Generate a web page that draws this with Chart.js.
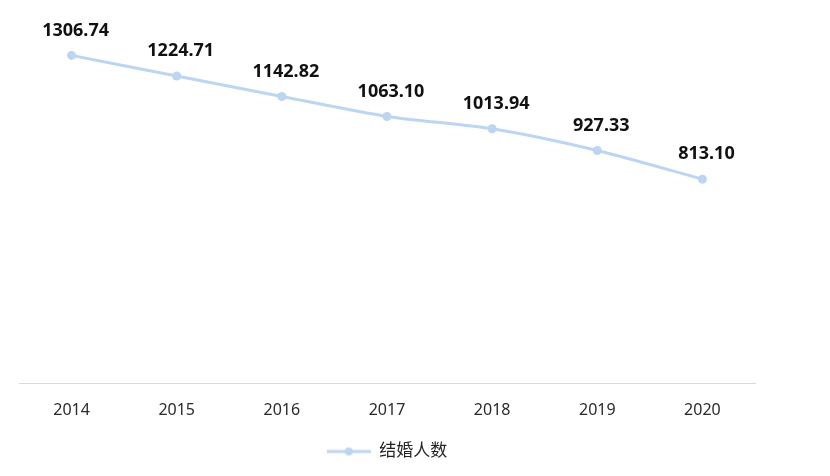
<!DOCTYPE html>
<html>
<head>
<meta charset="utf-8">
<script src="https://cdn.jsdelivr.net/npm/chart.js@4"></script>
<style>
    html, body { margin: 0; padding: 0; background: #fff; }
    #wrap { width: 830px; height: 476px; }
</style>
</head>
<body>
<div id="wrap"><canvas id="chart" width="830" height="476"></canvas></div>
<script>
// ─── Data ────────────────────────────────────────
const years     = ["2014", "2015", "2016", "2017", "2018", "2019", "2020"];
const marriages = [1306.74, 1224.71, 1142.82, 1063.10, 1013.94, 927.33, 813.10];
const seriesName = "结婚人数";

const LINE_COLOR = "#BCD5F0";
const FONT = "'Noto Sans', 'Noto Sans CJK SC', sans-serif";

// legend marker: a short line with a dot in the middle
function legendMarker() {
    const c = document.createElement("canvas");
    c.width = 44; c.height = 10;
    const g = c.getContext("2d");
    g.strokeStyle = LINE_COLOR;
    g.lineWidth = 3;
    g.beginPath(); g.moveTo(0, 5); g.lineTo(44, 5); g.stroke();
    g.fillStyle = LINE_COLOR;
    g.beginPath(); g.arc(22, 5, 4, 0, Math.PI * 2); g.fill();
    return c;
}

// value labels above each point
const valueLabels = {
    id: "valueLabels",
    afterDatasetsDraw(chart) {
        const ctx = chart.ctx;
        const meta = chart.getDatasetMeta(0);
        ctx.save();
        ctx.font = "bold 18px " + FONT;
        ctx.fillStyle = "#111";
        ctx.textAlign = "center";
        ctx.textBaseline = "middle";
        meta.data.forEach((pt, i) => {
            ctx.fillText(marriages[i].toFixed(2), pt.x + 4, pt.y - 25);
        });
        ctx.restore();
    }
};

new Chart(document.getElementById("chart"), {
    type: "line",
    data: {
        labels: years,
        datasets: [{
            label: seriesName,
            data: marriages,
            borderColor: LINE_COLOR,
            backgroundColor: LINE_COLOR,
            borderWidth: 3,
            pointStyle: "circle",
            pointRadius: 4.5,
            pointBackgroundColor: LINE_COLOR,
            pointBorderWidth: 0,
            tension: 0.25
        }]
    },
    options: {
        responsive: false,
        animation: false,
        layout: { padding: { top: 32, left: 19, right: 75, bottom: 6 } },
        plugins: {
            tooltip: { enabled: false },
            legend: {
                position: "bottom",
                labels: {
                    usePointStyle: true,
                    pointStyle: legendMarker(),
                    pointStyleWidth: 44,
                    padding: 10,
                    color: "#222",
                    font: { size: 17, family: FONT }
                }
            }
        },
        scales: {
            x: {
                offset: true,
                grid: { display: false, drawTicks: false },
                border: { display: true, color: "#d9d9d9", width: 1 },
                ticks: { padding: 18, color: "#2a2a2a", font: { size: 16, family: FONT } },
                afterFit: (scale) => { scale.height = 50; }
            },
            y: {
                display: false,
                min: 0,
                max: 1400
            }
        }
    },
    plugins: [valueLabels]
});
</script>
</body>
</html>
